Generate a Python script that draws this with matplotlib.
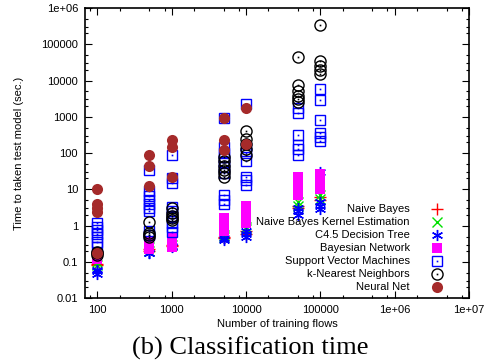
import matplotlib
matplotlib.use("Agg")
import matplotlib.pyplot as plt
from matplotlib.ticker import FixedLocator, LogLocator, NullFormatter

plt.rcParams['font.family'] = ['Liberation Sans', 'DejaVu Sans']

# training set sizes
sizes = [100, 500, 1000, 5000, 10000, 50000, 100000]

# test time (sec.) per method, one list per training size
nb = [[0.08, 0.09], [0.2, 0.22], [0.28, 0.3], [0.45, 0.5], [0.6, 0.7], [3.0, 3.5], [5.0, 6.0]]
nbke = [[0.08, 0.1], [0.2, 0.25], [0.3], [0.5, 0.55], [0.8, 0.9], [3.5, 4.5], [5.5, 7.0]]
c45 = [[0.045, 0.055, 0.06], [0.17, 0.18], [0.25, 0.28], [0.4, 0.45],
       [0.5, 0.6, 0.7], [2.0, 2.5, 3.0], [2.8, 3.5, 4.5, 30]]
bn = [[0.12, 0.14, 0.15], [0.22, 0.25, 0.3, 0.35], [0.25, 0.3, 0.35, 0.45, 0.5],
      [0.7, 0.9, 1.2, 1.6], [1.2, 1.6, 2.2, 3.0, 3.5], [7, 10, 15, 22], [10, 14, 20, 26]]
svm = [[0.25, 0.35, 0.5, 0.6, 0.75, 0.9, 1.2],
       [0.55, 0.7, 2.5, 3, 4, 5, 6.5, 9, 35],
       [0.65, 0.9, 1.2, 1.8, 2.5, 3.2, 15, 20, 90],
       [4, 5, 7, 28, 40, 55, 80, 100, 150, 900],
       [13, 18, 22, 60, 100, 150, 2300],
       [90, 130, 170, 320, 1250, 1800],
       [220, 280, 360, 800, 2900, 5800]]
knn = [[0.15, 0.17, 0.19],
       [0.5, 0.55, 0.62, 1.25],
       [1.4, 1.6, 1.8, 2.2, 3.0],
       [22, 28, 35, 45, 60, 80],
       [90, 130, 180, 250, 400],
       [2500, 3000, 3800, 5000, 7500, 45000],
       [15000, 19000, 25000, 35000, 340000]]
nn = [[0.18, 2.3, 3.0, 4.0, 10.5],
      [12.5, 45, 90],
      [22, 150, 230],
      [120, 230, 900],
      [180, 1800]]

x_ticks = [100, 1000, 10000, 100000, 1e6, 1e7]
x_labels = ["100", "1000", "10000", "100000", "1e+06", "1e+07"]
y_ticks = [0.01, 0.1, 1, 10, 100, 1000, 10000, 100000, 1e6]
y_labels = ["0.01", "0.1", "1", "10", "100", "1000", "10000", "100000", "1e+06"]


def flat(groups):
    xs, ys = [], []
    for s, vals in zip(sizes, groups):
        for v in vals:
            xs.append(s)
            ys.append(v)
    return xs, ys


fig = plt.figure(figsize=(4.87, 3.64), dpi=100)
ax = fig.add_axes([0.1745, 0.181, 0.7885, 0.797])

series = [
    ("Naive Bayes", nb, dict(marker='+', color='#ff0000', ms=8, mew=1, ls='none')),
    ("Naive Bayes Kernel Estimation", nbke, dict(marker='x', color='#00e000', ms=7, mew=1, ls='none')),
    ("C4.5 Decision Tree", c45, dict(marker=(6, 2, 0), color='#0000ff', ms=8, mew=1, ls='none')),
    ("Bayesian Network", bn, dict(marker='s', color='#ff00ff', ms=7, mew=0, ls='none')),
    ("Support Vector Machines", svm, dict(marker='s', mfc='none', mec='#0000ff', ms=7, mew=1, ls='none')),
    ("k-Nearest Neighbors", knn, dict(marker='o', mfc='none', mec='black', ms=8, mew=1, ls='none')),
    ("Neural Net", nn, dict(marker='o', color='#a52a2a', ms=8, mew=0, ls='none')),
]

for name, groups, st in series:
    xs, ys = flat(groups)
    ax.plot(xs, ys, **st)
    if name == "Support Vector Machines":
        ax.plot(xs, ys, ls='none', marker='s', ms=1.2, color='#0000ff', mew=0)
    if name == "k-Nearest Neighbors":
        ax.plot(xs, ys, ls='none', marker='s', ms=1.2, color='black', mew=0)

ax.set_xscale('log')
ax.set_yscale('log')
ax.set_xlim(68, 1e7)
ax.set_ylim(0.01, 1e6)

ax.xaxis.set_major_locator(FixedLocator(x_ticks))
ax.set_xticklabels(x_labels)
ax.yaxis.set_major_locator(FixedLocator(y_ticks))
ax.set_yticklabels(y_labels)
ax.xaxis.set_minor_locator(LogLocator(base=10, subs=(2, 5, 8), numticks=20))
ax.yaxis.set_minor_locator(LogLocator(base=10, subs=(2, 3, 5), numticks=20))
ax.xaxis.set_minor_formatter(NullFormatter())
ax.yaxis.set_minor_formatter(NullFormatter())
ax.tick_params(which='both', direction='in', top=True, right=True, labelsize=8, width=0.8)
ax.tick_params(which='major', length=5, pad=5)
ax.tick_params(which='minor', length=2.5)
for sp in ax.spines.values():
    sp.set_linewidth(1.2)

ax.set_xlabel("Number of training flows", fontsize=8, labelpad=3)
ax.set_ylabel("Time to taken test model (sec.)", fontsize=8, labelpad=12)

# legend drawn gnuplot style: right aligned text, marker to the right
for i, (name, groups, st) in enumerate(series):
    yy = 0.307 - i * 0.0448
    ax.text(0.846, yy, name, transform=ax.transAxes, ha='right', va='center', fontsize=8)
    ax.plot([0.917], [yy], transform=ax.transAxes, clip_on=False, **st)
    if name == "Support Vector Machines":
        ax.plot([0.917], [yy], transform=ax.transAxes, ls='none', marker='s', ms=1.2, color='#0000ff', mew=0)
    if name == "k-Nearest Neighbors":
        ax.plot([0.917], [yy], transform=ax.transAxes, ls='none', marker='s', ms=1.2, color='black', mew=0)

fig.text(0.513, 0.044, "(b) Classification time", ha='center', va='center',
         fontsize=19, family=['Liberation Serif', 'DejaVu Serif'])

fig.savefig("out.png", dpi=100)
